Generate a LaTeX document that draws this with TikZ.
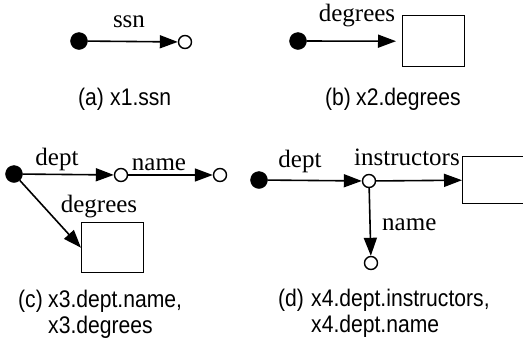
\documentclass[tikz,border=0pt]{standalone}
\usepackage{fontspec}
\setmainfont{Liberation Serif}
\newfontfamily\capfont[FakeStretch=0.88]{Liberation Sans}
\usetikzlibrary{arrows.meta}
\tikzset{
  dotnode/.style={circle,fill=black,draw=black,inner sep=0pt,minimum size=17pt},
  opennode/.style={circle,draw=black,line width=1.4pt,fill=white,inner sep=0pt,minimum size=13pt},
  boxnode/.style={rectangle,draw=black,line width=1.4pt,inner sep=0pt,anchor=north west},
  conn/.style={line width=1.6pt,-{Triangle[length=18pt,width=13pt]}},
  lbl/.style={font=\fontsize{25}{25}\selectfont,inner sep=0pt,anchor=base},
  captxt/.style={font=\capfont\fontsize{24}{24}\selectfont,inner sep=0pt,anchor=base west},
}
\begin{document}
\begin{tikzpicture}[x=1pt,y=-1pt]
\useasboundingbox (0,0) rectangle (523,341);
\clip (0,0) rectangle (523,341);
% (a)
\node[dotnode] (a1) at (79,41) {};
\node[opennode] (a2) at (185,42) {};
\draw[conn] (a1) -- (a2);
\node[lbl] (la) at (129,27) {ssn};
\node[captxt] (ca0) at (78,105) {(a)};
\node[captxt] (ca1) at (110,105) {x1.ssn};
% (b)
\node[dotnode] (b1) at (298,41) {};
\node[boxnode,minimum width=62pt,minimum height=51pt] (b2) at (402,15) {};
\draw[conn,shorten >=6pt] (b1) -- (b2.west);
\node[lbl] (lb) at (357,21) {degrees};
\node[captxt] (cb0) at (325,105) {(b)};
\node[captxt] (cb1) at (356,105) {x2.degrees};
% (c)
\node[dotnode] (c1) at (14,174) {};
\node[opennode] (c2) at (121,175) {};
\node[opennode] (c3) at (220,175) {};
\node[boxnode,minimum width=62pt,minimum height=50pt] (c4) at (81,222) {};
\draw[conn] (c1) -- (c2);
\draw[conn] (c2) -- (c3);
\draw[conn] (c1) -- (c4.west);
\node[lbl] (lc1) at (57,165) {dept};
\node[lbl] (lc2) at (159,170) {name};
\node[lbl] (lc3) at (99,212) {degrees};
\node[captxt] (cc0) at (18,307) {(c)};
\node[captxt] (cc1) at (48,307) {x3.dept.name,};
\node[captxt] (cc2) at (48,333) {x3.degrees};
% (d)
\node[dotnode] (d1) at (259,180) {};
\node[opennode] (d2) at (369,181) {};
\node[opennode] (d3) at (371,263) {};
\node[boxnode,minimum width=80pt,minimum height=47pt] (d4) at (462,156) {};
\draw[conn] (d1) -- (d2);
\draw[conn] (d2) -- (d4.west);
\draw[conn] (d2) -- (d3);
\node[lbl] (ld1) at (300,167) {dept};
\node[lbl] (ld2) at (407,165) {instructors};
\node[lbl,anchor=base west] (ld3) at (382,230) {name};
\node[captxt] (cd0) at (278,306) {(d)};
\node[captxt] (cd1) at (311,306) {x4.dept.instructors,};
\node[captxt] (cd2) at (311,332) {x4.dept.name};
\end{tikzpicture}
\end{document}
